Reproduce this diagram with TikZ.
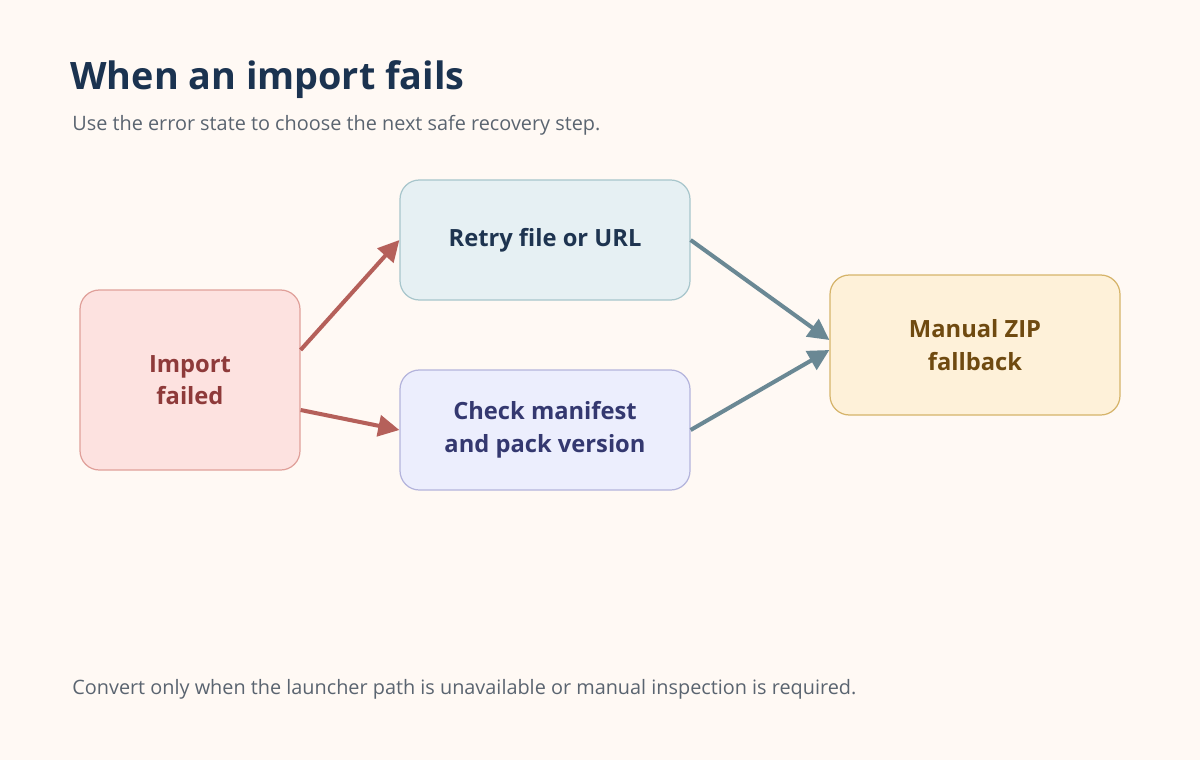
\documentclass[tikz,border=0pt]{standalone}
\usepackage{fontspec}
\setmainfont{Open Sans}
\usepackage{xcolor}
\usetikzlibrary{arrows.meta}
\definecolor{bgc}{HTML}{FFF9F4}
\definecolor{titlec}{HTML}{1B3350}
\definecolor{subc}{HTML}{5A6470}
\definecolor{redf}{HTML}{FDE2E0}\definecolor{redd}{HTML}{E0A09A}\definecolor{redt}{HTML}{8E3A3A}
\definecolor{bluef}{HTML}{E6F0F3}\definecolor{blued}{HTML}{A8C6CC}\definecolor{bluet}{HTML}{1E3450}
\definecolor{violf}{HTML}{ECEEFD}\definecolor{viold}{HTML}{B4B4DC}\definecolor{violt}{HTML}{343870}
\definecolor{yelf}{HTML}{FEF1D9}\definecolor{yeld}{HTML}{D6B46A}\definecolor{yelt}{HTML}{6F4A10}
\definecolor{redarr}{HTML}{B5605A}\definecolor{tealarr}{HTML}{6A8894}
\begin{document}
\begin{tikzpicture}[x=0.02cm,y=-0.02cm]
  \tikzset{box/.style = {shape=rectangle,rounded corners=11pt,line width=0.7pt,align=center,font=\fontsize{13.5}{18.5}\selectfont\bfseries}}
  \tikzset{edge/.style = {line width=2.3pt,-{Triangle[length=12pt,width=12pt]}}}

  \fill[bgc] (0,0) rectangle (1200,760);

  \node[anchor=base west,text=titlec,font=\fontsize{21.5}{26}\selectfont\bfseries,inner sep=0] (title) at (70,90) {When an import fails};
  \node[anchor=base west,text=subc,font=\fontsize{11.3}{14}\selectfont,inner sep=0] (sub) at (72,131) {Use the error state to choose the next safe recovery step.};
  \node[anchor=base west,text=subc,font=\fontsize{11.3}{14}\selectfont,inner sep=0] (foot) at (72,694) {Convert only when the launcher path is unavailable or manual inspection is required.};

	\node[box,fill=redf,draw=redd,text=redt,minimum width=220*0.02cm,minimum height=180*0.02cm] (imp) at (190,380) {Import\\failed};
	\node[box,fill=bluef,draw=blued,text=bluet,minimum width=290*0.02cm,minimum height=120*0.02cm] (retry) at (545,240) {Retry file or URL};
	\node[box,fill=violf,draw=viold,text=violt,minimum width=290*0.02cm,minimum height=120*0.02cm] (check) at (545,430) {Check manifest\\and pack version};
	\node[box,fill=yelf,draw=yeld,text=yelt,minimum width=290*0.02cm,minimum height=140*0.02cm] (zip) at (975,345) {Manual ZIP\\fallback};

    \foreach \from/\fy/\to/\ty/\col in {imp/-30/retry/0/redarr,imp/30/check/0/redarr,retry/0/zip/-5/tealarr,check/0/zip/5/tealarr}
    \draw[edge,\col] ([yshift=-\fy*0.02cm]\from.east) -- ([yshift=-\ty*0.02cm]\to.west);

\end{tikzpicture}
\end{document}
